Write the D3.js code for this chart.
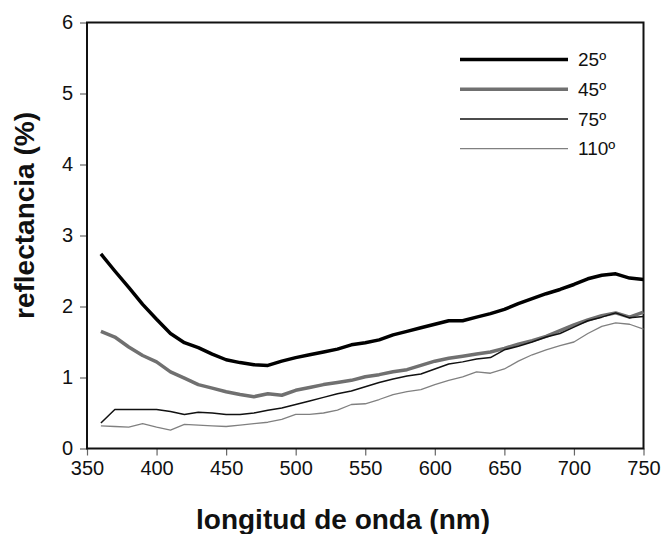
<!DOCTYPE html>
<html>
<head>
<meta charset="utf-8">
<script src="https://cdn.jsdelivr.net/npm/d3@7"></script>
<style>
  body { margin: 0; background: #fff; }
  svg { font-family: "Liberation Sans", Arial, sans-serif; }
</style>
</head>
<body>
<svg id="chart" width="665" height="534"></svg>
<script>
// wavelength (nm), one value every 10 nm
var wavelengths = d3.range(360, 751, 10);

var series25 = [2.74, 2.50, 2.27, 2.03, 1.82, 1.62, 1.49, 1.42, 1.33, 1.25,
                1.21, 1.18, 1.17, 1.23, 1.28, 1.32, 1.36, 1.40, 1.46, 1.49,
                1.53, 1.60, 1.65, 1.70, 1.75, 1.80, 1.80, 1.85, 1.90, 1.96,
                2.04, 2.11, 2.18, 2.24, 2.31, 2.39, 2.44, 2.46, 2.40, 2.38];
var series45 = [1.65, 1.57, 1.43, 1.31, 1.22, 1.08, 0.99, 0.90, 0.85, 0.80,
                0.76, 0.73, 0.77, 0.75, 0.82, 0.86, 0.90, 0.93, 0.96, 1.01,
                1.04, 1.08, 1.11, 1.17, 1.23, 1.27, 1.30, 1.33, 1.36, 1.41,
                1.47, 1.52, 1.58, 1.66, 1.74, 1.81, 1.87, 1.91, 1.85, 1.92];
var series75 = [0.36, 0.55, 0.55, 0.55, 0.55, 0.52, 0.48, 0.51, 0.50, 0.48,
                0.48, 0.50, 0.54, 0.57, 0.62, 0.67, 0.72, 0.77, 0.81, 0.87,
                0.93, 0.98, 1.02, 1.05, 1.12, 1.19, 1.22, 1.26, 1.28, 1.39,
                1.44, 1.50, 1.57, 1.62, 1.71, 1.80, 1.85, 1.91, 1.84, 1.86];
var series110 = [0.32, 0.31, 0.30, 0.35, 0.30, 0.26, 0.34, 0.33, 0.32, 0.31,
                 0.33, 0.35, 0.37, 0.41, 0.48, 0.48, 0.50, 0.54, 0.62, 0.63,
                 0.69, 0.76, 0.80, 0.83, 0.90, 0.96, 1.01, 1.08, 1.06, 1.12,
                 1.23, 1.32, 1.39, 1.45, 1.50, 1.62, 1.72, 1.77, 1.75, 1.68];

var seriesNames = ["25º", "45º", "75º", "110º"];
var xTicks = [350, 400, 450, 500, 550, 600, 650, 700, 750];
var yTicks = [0, 1, 2, 3, 4, 5, 6];

var seriesStyle = [
    { color: "#000000", width: 3.5 },
    { color: "#707070", width: 3.5 },
    { color: "#111111", width: 1.5 },
    { color: "#808080", width: 1.3 }
];

var allSeries = [series25, series45, series75, series110].map(function (vals, i) {
    return {
        name: seriesNames[i],
        values: vals.map(function (v, j) { return { x: wavelengths[j], y: v }; })
    };
});

var margin = { top: 22.5, right: 21.5, bottom: 85.5, left: 87 };
var width = 665 - margin.left - margin.right;
var height = 534 - margin.top - margin.bottom;

var x = d3.scaleLinear().domain([350, 750]).range([0, width]);
var y = d3.scaleLinear().domain([0, 6]).range([height, 0]);

var svg = d3.select("#chart")
    .append("g")
    .attr("transform", "translate(" + margin.left + "," + margin.top + ")");

// X axis
var xAxis = svg.append("g")
    .attr("transform", "translate(0," + height + ")")
    .call(d3.axisBottom(x).tickValues(xTicks).tickSize(7).tickPadding(5).tickFormat(d3.format("d")));
xAxis.select(".domain").remove();
xAxis.selectAll("line").attr("stroke", "#666").attr("stroke-width", 1.2);
xAxis.selectAll("text").style("font-size", "20px").attr("fill", "#111");

// Y axis
var yAxis = svg.append("g")
    .call(d3.axisLeft(y).tickValues(yTicks).tickSize(7).tickPadding(7).tickFormat(d3.format("d")));
yAxis.select(".domain").remove();
yAxis.selectAll("line").attr("stroke", "#666").attr("stroke-width", 1.2);
yAxis.selectAll("text").style("font-size", "20px").attr("fill", "#111");

// plot frame
svg.append("rect")
    .attr("x", 0)
    .attr("y", 0)
    .attr("width", width)
    .attr("height", height)
    .attr("fill", "none")
    .attr("stroke", "#111")
    .attr("stroke-width", 2);

// lines
var line = d3.line()
    .x(function (d) { return x(d.x); })
    .y(function (d) { return y(d.y); });

svg.selectAll(".series")
    .data(allSeries)
    .enter().append("path")
    .attr("class", "series")
    .attr("d", function (d) { return line(d.values); })
    .attr("fill", "none")
    .attr("stroke", function (d, i) { return seriesStyle[i].color; })
    .attr("stroke-width", function (d, i) { return seriesStyle[i].width; })
    .attr("stroke-linejoin", "round");

// legend
var legend = svg.selectAll(".legend")
    .data(allSeries)
    .enter().append("g")
    .attr("class", "legend")
    .attr("transform", function (d, i) {
        return "translate(" + (460 - margin.left) + "," + (59.5 - margin.top + i * 29.7) + ")";
    });

legend.append("line")
    .attr("x1", 0)
    .attr("x2", 108)
    .attr("stroke", function (d, i) { return seriesStyle[i].color; })
    .attr("stroke-width", function (d, i) { return seriesStyle[i].width; });

legend.append("text")
    .attr("x", 118)
    .attr("dy", "0.35em")
    .style("font-size", "19px")
    .attr("fill", "#111")
    .text(function (d) { return d.name; });

// axis titles
svg.append("text")
    .attr("x", 343 - margin.left)
    .attr("y", height + 80)
    .style("text-anchor", "middle")
    .style("font-size", "28px")
    .style("font-weight", "bold")
    .attr("fill", "#111")
    .text("longitud de onda (nm)");

svg.append("text")
    .attr("transform", "rotate(-90)")
    .attr("x", -(215.5 - margin.top))
    .attr("y", -margin.left + 34)
    .style("text-anchor", "middle")
    .style("font-size", "28px")
    .style("font-weight", "bold")
    .attr("fill", "#111")
    .text("reflectancia (%)");
</script>
</body>
</html>
